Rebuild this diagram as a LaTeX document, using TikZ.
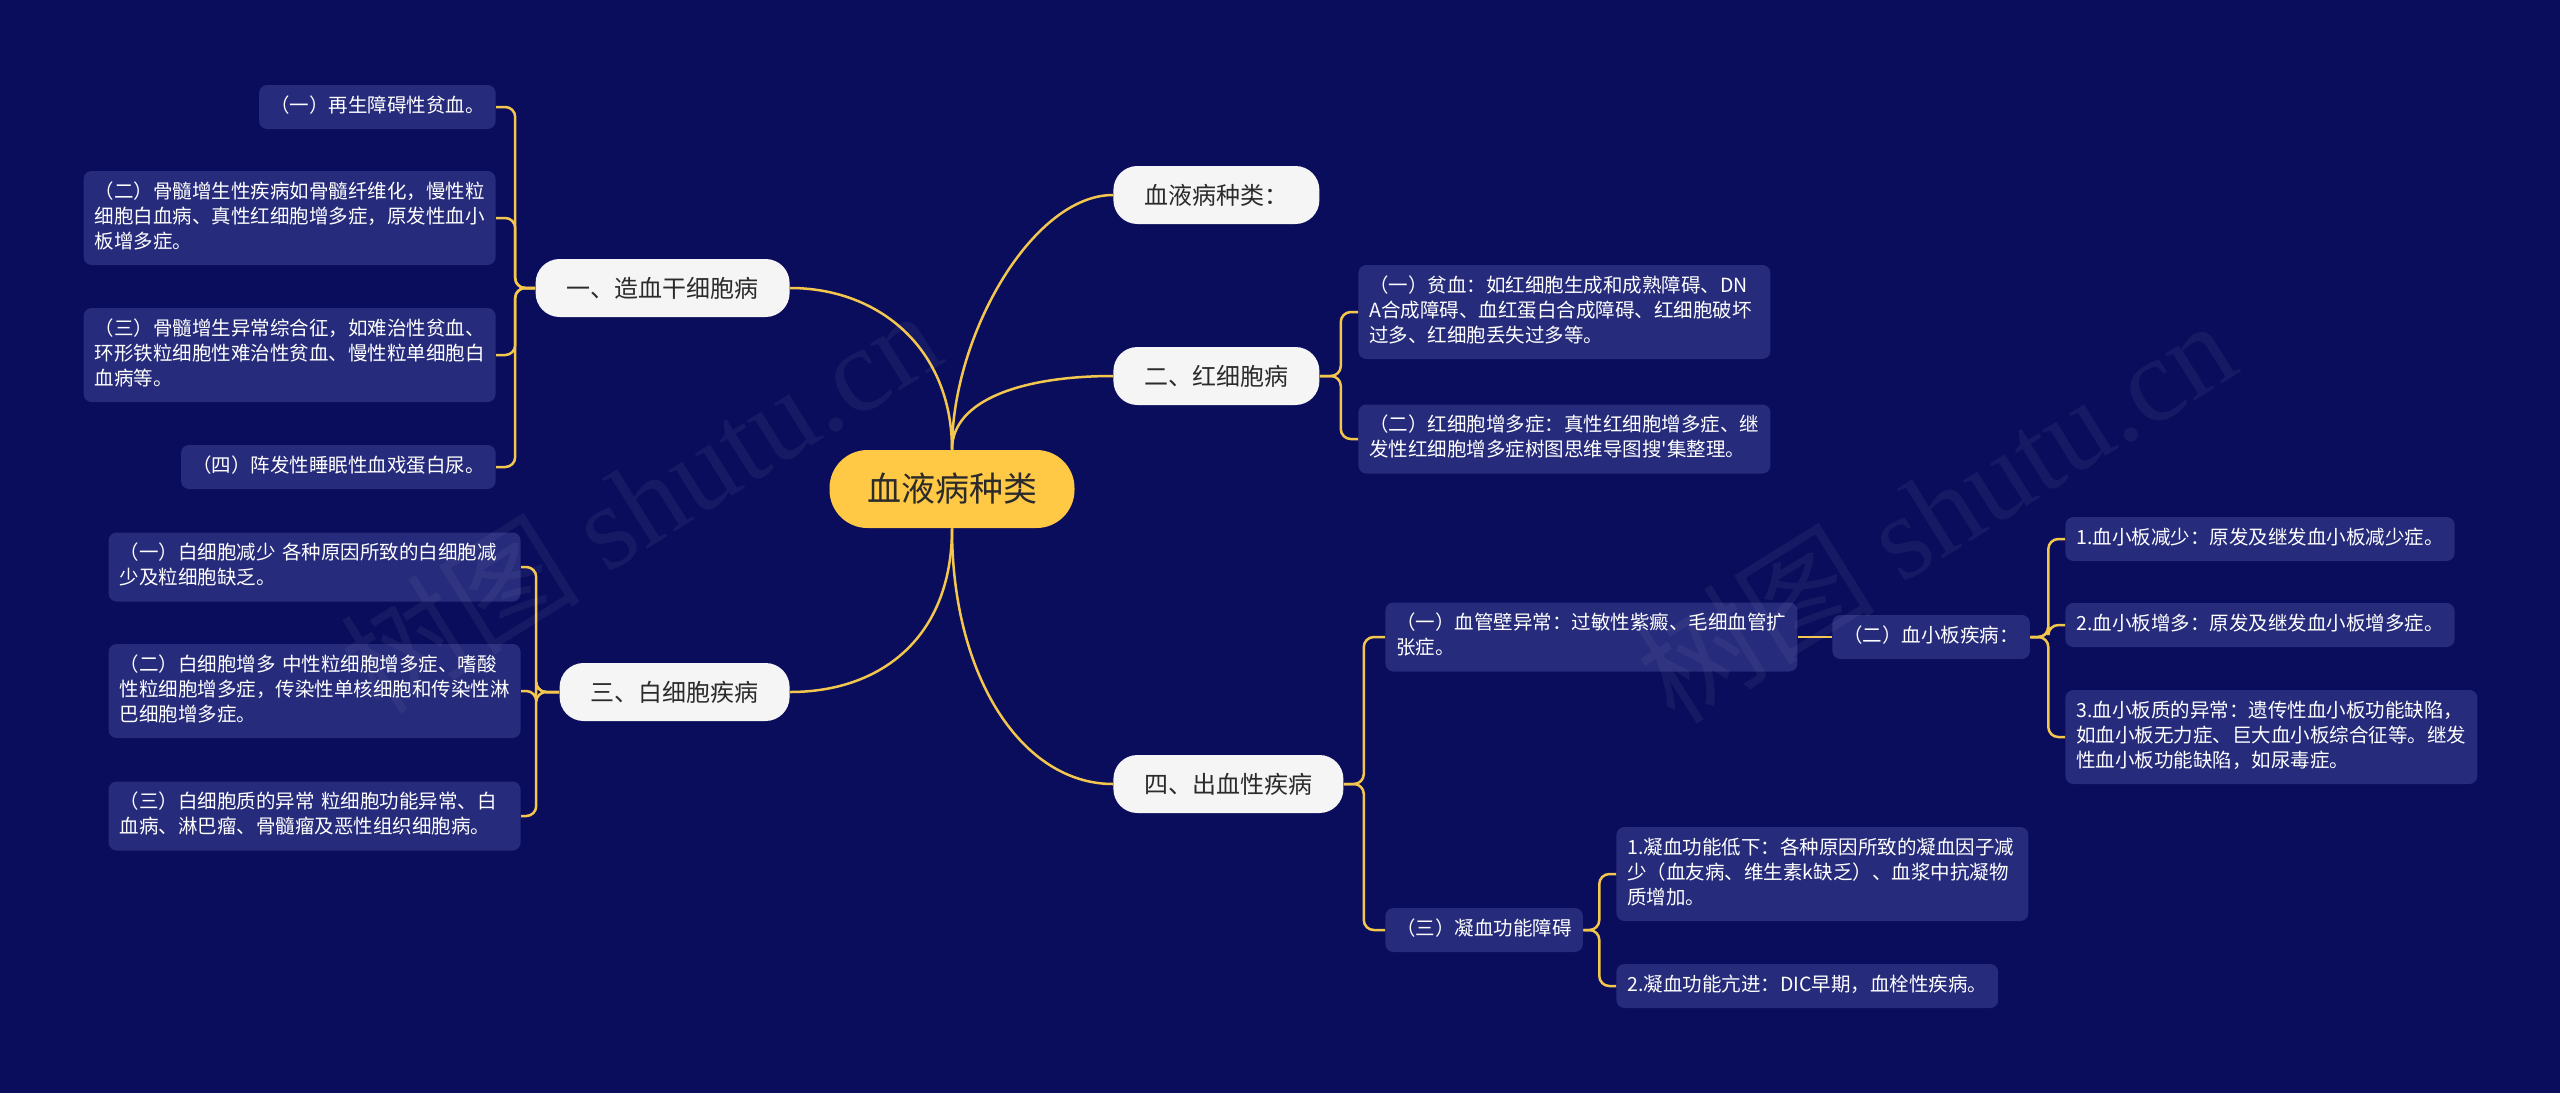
\documentclass[tikz,border=0pt]{standalone}
\usepackage{fontspec}
\setmainfont{Noto Sans CJK SC}
\newfontfamily\plainfont{Noto Sans CJK SC}
\newfontfamily\wmfont{Liberation Serif}
\definecolor{bgblue}{HTML}{0A0D5B}
\definecolor{leafblue}{HTML}{262B7B}
\definecolor{linkyel}{HTML}{F3C64E}
\definecolor{rootyel}{HTML}{FFC845}
\definecolor{pill}{HTML}{F5F5F5}
\definecolor{ink}{HTML}{2B2B2B}
\tikzset{
  root/.style={fill=rootyel, text=ink, rounded corners=19pt, minimum height=39pt, inner xsep=18.75pt, inner ysep=2pt, font=\fontsize{17}{20}\selectfont},
  topic/.style={fill=pill, text=ink, rounded corners=12pt, minimum height=29pt, inner xsep=15.5pt, inner ysep=2pt, font=\fontsize{12}{14}\selectfont},
  leaf/.style={fill=leafblue, text=white, rounded corners=4pt, inner xsep=5.5pt, inner ysep=4.75pt, align=left, font=\fontsize{9.75}{12.5}\selectfont, execute at begin node=\strut, execute at end node=\strut},
  wide/.style={text width=195pt},
  link/.style={draw=linkyel, line width=1.25pt},
  bracket/.style={link, rounded corners=5pt},
  wmark/.style={rotate=32, text=white, opacity=0.05, font=\fontsize{60}{60}\selectfont},
}
\begin{document}
\begin{tikzpicture}[x=0.5pt,y=-0.5pt]
\useasboundingbox (0,0) rectangle (2560,1093);
\fill[bgblue] (0,0) rectangle (2560,1093); %background

\node[root] (root) at (952,489) {血液病种类};
\node[topic, anchor=west] (r0) at (1113,195) {血液病种类：};
\node[topic, anchor=west] (r2) at (1113,376) {二、红细胞病};
\node[topic, anchor=west] (r4) at (1113,784) {四、出血性疾病};
\node[topic, anchor=east] (n1) at (790,288) {一、造血干细胞病};
\node[topic, anchor=east] (n2) at (790,692) {三、白细胞疾病};

% left, group one
\node[leaf, anchor=east] (a1) at (496,107) {（一）再生障碍性贫血。};
\node[leaf, wide, anchor=east] (a2) at (496,218) {（二）骨髓增生性疾病如骨髓纤维化，慢性粒\\细胞白血病、真性红细胞增多症，原发性血小\\板增多症。};
\node[leaf, wide, anchor=east] (a3) at (496,355) {（三）骨髓增生异常综合征，如难治性贫血、\\环形铁粒细胞性难治性贫血、慢性粒单细胞白\\血病等。};
\node[leaf, anchor=east] (a4) at (496,467) {（四）阵发性睡眠性血戏蛋白尿。};

% left, group three
\node[leaf, wide, anchor=east] (b1) at (521,567) {（一）白细胞减少 各种原因所致的白细胞减\\少及粒细胞缺乏。};
\node[leaf, wide, anchor=east] (b2) at (521,691) {（二）白细胞增多 中性粒细胞增多症、嗜酸\\性粒细胞增多症，传染性单核细胞和传染性淋\\巴细胞增多症。};
\node[leaf, wide, anchor=east] (b3) at (521,816) {（三）白细胞质的异常 粒细胞功能异常、白\\血病、淋巴瘤、骨髓瘤及恶性组织细胞病。};

% right, group two
\node[leaf, wide, anchor=west] (c1) at (1358,312) {（一）贫血：如红细胞生成和成熟障碍、DN\\A合成障碍、血红蛋白合成障碍、红细胞破坏\\过多、红细胞丢失过多等。};
\node[leaf, wide, anchor=west] (c2) at (1358,439) {（二）红细胞增多症：真性红细胞增多症、继\\发性红细胞增多症树图思维导图搜{\plainfont '}集整理。};

% right, group four
\node[leaf, wide, anchor=west] (d1) at (1385,637) {（一）血管壁异常：过敏性紫癜、毛细血管扩\\张症。};
\node[leaf, anchor=west] (d2) at (1385,930) {（三）凝血功能障碍};
\node[leaf, anchor=west] (e0) at (1832,637) {（二）血小板疾病：};
\node[leaf, anchor=west] (e1) at (2065,539) {1.血小板减少：原发及继发血小板减少症。};
\node[leaf, anchor=west] (e2) at (2065,625) {2.血小板增多：原发及继发血小板增多症。};
\node[leaf, wide, anchor=west] (e3) at (2065,737) {3.血小板质的异常：遗传性血小板功能缺陷，\\如血小板无力症、巨大血小板综合征等。继发\\性血小板功能缺陷，如尿毒症。};
\node[leaf, wide, anchor=west] (f1) at (1616,874) {1.凝血功能低下：各种原因所致的凝血因子减\\少（血友病、维生素k缺乏）、血浆中抗凝物\\质增加。};
\node[leaf, anchor=west] (f2) at (1616,986) {2.凝血功能亢进：DIC早期，血栓性疾病。};

% main curves
\draw[link] (root.north) .. controls +(0,-115) and +(-80,0) .. (r0.west);
\draw[link] (root.north) .. controls +(0,-50) and +(-90,0) .. (r2.west);
\draw[link] (root.south) .. controls +(0,150) and +(-90,0) .. (r4.west);
\draw[link] (root.north) .. controls +(0,-100) and +(90,0) .. (n1.east);
\draw[link] (root.south) .. controls +(0,110) and +(90,0) .. (n2.east);

% brackets
\foreach \c in {a1,a2,a3,a4} \draw[bracket] (n1.west) -- ++(-20,0) |- (\c.east);
\foreach \c in {b1,b2,b3} \draw[bracket] (n2.west) -- ++(-23,0) |- (\c.east);
\foreach \c in {c1,c2} \draw[bracket] (r2.east) -- ++(21,0) |- (\c.west);
\foreach \c in {d1,d2} \draw[bracket] (r4.east) -- ++(20,0) |- (\c.west);
\draw[link] (d1.east) -- (e0.west);
\foreach \c in {e1,e2,e3} \draw[bracket] (e0.east) -- ++(18,0) |- (\c.west);
\foreach \c in {f1,f2} \draw[bracket] (d2.east) -- ++(16,0) |- (\c.west);

% watermark
\node[wmark] (wm1) at (640,500) {树图 {\wmfont shutu.cn}};
\node[wmark] (wm2) at (1935,510) {树图 {\wmfont shutu.cn}};
\end{tikzpicture}
\end{document}
